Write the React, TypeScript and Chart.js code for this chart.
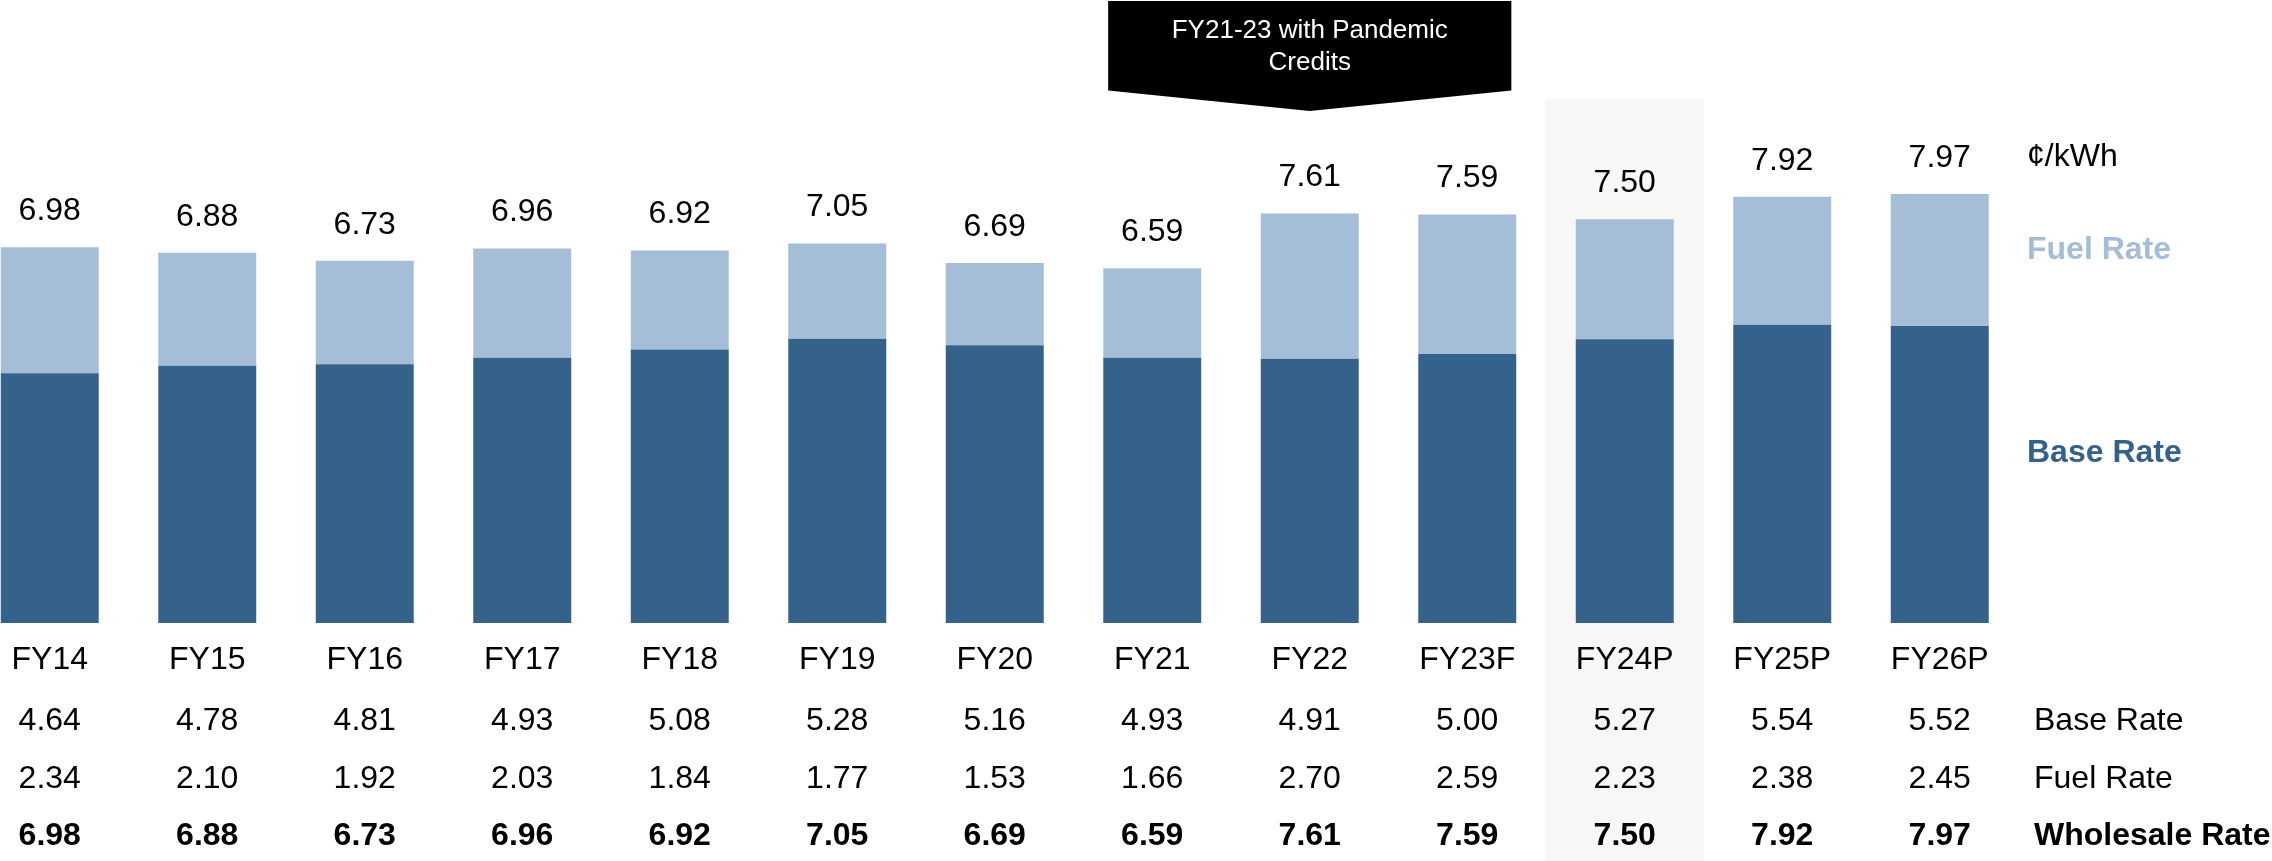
import React, { useEffect, useRef } from "react";
import { Chart, registerables } from "chart.js";

Chart.register(...registerables);

const categories = ["FY14", "FY15", "FY16", "FY17", "FY18", "FY19", "FY20", "FY21", "FY22", "FY23F", "FY24P", "FY25P", "FY26P"];
const baseRate = [4.64, 4.78, 4.81, 4.93, 5.08, 5.28, 5.16, 4.93, 4.91, 5.0, 5.27, 5.54, 5.52];
const fuelRate = [2.34, 2.1, 1.92, 2.03, 1.84, 1.77, 1.53, 1.66, 2.7, 2.59, 2.23, 2.38, 2.45];
const wholesaleRate = [6.98, 6.88, 6.73, 6.96, 6.92, 7.05, 6.69, 6.59, 7.61, 7.59, 7.5, 7.92, 7.97];
const highlightIndex = 10;
const calloutCenterIndex = 8;
const calloutLines = ["FY21-23 with Pandemic", "Credits"];
const unitLabel = "¢/kWh";
const rowLabels = ["Base Rate", "Fuel Rate", "Wholesale Rate"];

const BASE_COLOR = "#35628B";
const FUEL_COLOR = "#A3BED6";
const FONT = "'Liberation Sans', Arial, sans-serif";
const SHIFT = 29; // canvas is shifted left by this many px

const overlayPlugin = {
  id: "overlay",
  beforeDatasetsDraw(chart: any) {
    const ctx = chart.ctx;
    const x = chart.scales.x;
    const pitch = x.getPixelForValue(1) - x.getPixelForValue(0);
    const cx = x.getPixelForValue(highlightIndex);
    ctx.save();
    ctx.fillStyle = "#F7F7F7";
    ctx.fillRect(cx - pitch / 2 - 0.5, 99, pitch + 1, 861 - 99);
    ctx.restore();
  },
  afterDatasetsDraw(chart: any) {
    const ctx = chart.ctx;
    const x = chart.scales.x;
    const y = chart.scales.y;
    const pitch = x.getPixelForValue(1) - x.getPixelForValue(0);
    ctx.save();
    ctx.textAlign = "center";
    ctx.textBaseline = "middle";
    ctx.fillStyle = "#000";
    // totals above bars
    ctx.font = `32px ${FONT}`;
    categories.forEach((_, i) => {
      const total = baseRate[i] + fuelRate[i];
      const px = x.getPixelForValue(i);
      const top = y.getPixelForValue(total);
      ctx.fillText(wholesaleRate[i].toFixed(2), px, top - 36);
    });
    // table
    categories.forEach((c, i) => {
      const px = x.getPixelForValue(i);
      ctx.font = `32px ${FONT}`;
      ctx.fillText(c, px, 660);
      ctx.fillText(baseRate[i].toFixed(2), px, 721);
      ctx.fillText(fuelRate[i].toFixed(2), px, 779);
      ctx.font = `bold 32px ${FONT}`;
      ctx.fillText(wholesaleRate[i].toFixed(2), px, 836);
    });
    // row labels
    ctx.textAlign = "left";
    const rx = 2034 + SHIFT;
    ctx.font = `32px ${FONT}`;
    ctx.fillText(rowLabels[0], rx, 721);
    ctx.fillText(rowLabels[1], rx, 779);
    ctx.font = `bold 32px ${FONT}`;
    ctx.fillText(rowLabels[2], rx, 836);
    // legend-like labels
    const lx = 2027 + SHIFT;
    ctx.font = `32px ${FONT}`;
    ctx.fillStyle = "#000";
    ctx.fillText(unitLabel, lx, 157);
    ctx.font = `bold 32px ${FONT}`;
    ctx.fillStyle = FUEL_COLOR;
    ctx.fillText("Fuel Rate", lx, 250);
    ctx.fillStyle = BASE_COLOR;
    ctx.fillText("Base Rate", lx, 453);
    // callout
    const ccx = x.getPixelForValue(calloutCenterIndex);
    const hw = pitch * 1.28;
    ctx.fillStyle = "#000";
    ctx.beginPath();
    ctx.moveTo(ccx - hw, 1);
    ctx.lineTo(ccx + hw, 1);
    ctx.lineTo(ccx + hw, 90.5);
    ctx.lineTo(ccx, 111);
    ctx.lineTo(ccx - hw, 90.5);
    ctx.closePath();
    ctx.fill();
    ctx.fillStyle = "#fff";
    ctx.textAlign = "center";
    ctx.font = `26px ${FONT}`;
    ctx.fillText(calloutLines[0], ccx, 31);
    ctx.fillText(calloutLines[1], ccx, 63);
    ctx.restore();
  },
};

export default function App() {
  const ref = useRef<HTMLCanvasElement | null>(null);
  useEffect(() => {
    if (!ref.current) return;
    const chart = new Chart(ref.current, {
      type: "bar",
      data: {
        labels: categories,
        datasets: [
          {
            label: "Base Rate",
            data: baseRate,
            backgroundColor: BASE_COLOR,
            categoryPercentage: 1,
            barPercentage: 0.622,
          },
          {
            label: "Fuel Rate",
            data: fuelRate,
            backgroundColor: FUEL_COLOR,
            categoryPercentage: 1,
            barPercentage: 0.622,
          },
        ],
      },
      options: {
        animation: false,
        responsive: false,
        devicePixelRatio: 1,
        events: [],
        layout: { padding: { left: 0, right: 2301 - 2047.5, top: 84.8, bottom: 238 } },
        plugins: { legend: { display: false }, tooltip: { enabled: false } },
        scales: {
          x: { stacked: true, display: false },
          y: { stacked: true, display: false, min: 0, max: 10 },
        },
      },
      plugins: [overlayPlugin],
    });
    return () => chart.destroy();
  }, []);
  return (
    <div
      style={{
        position: "fixed",
        left: 0,
        top: 0,
        width: 2272,
        height: 861,
        overflow: "hidden",
        background: "#fff",
      }}
    >
      <canvas
        ref={ref}
        width={2301}
        height={861}
        style={{ position: "absolute", left: -SHIFT, top: 0, width: 2301, height: 861 }}
      />
    </div>
  );
}
